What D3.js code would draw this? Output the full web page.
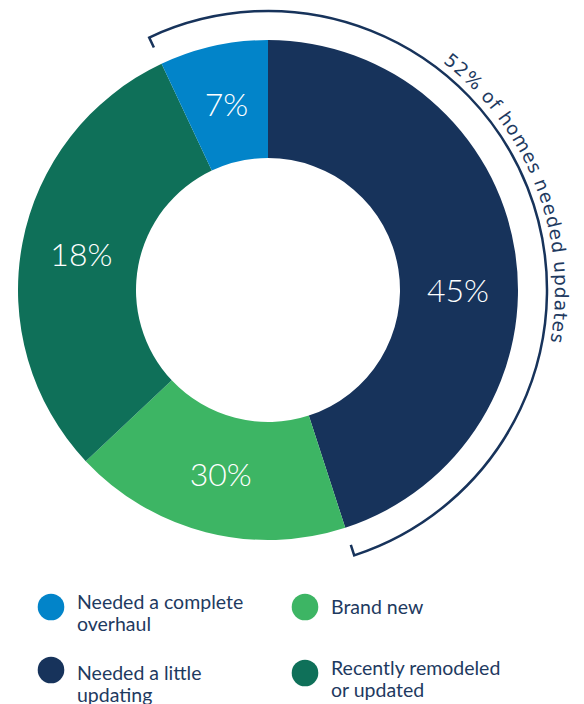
<!DOCTYPE html>
<html><head><meta charset="utf-8">
<script src="https://cdn.jsdelivr.net/npm/d3@7"></script>
<style>
html,body{margin:0;padding:0;background:#fff;}
svg{display:block;font-family:Lato,"Open Sans",sans-serif;}
</style></head>
<body>
<svg id="c" width="584" height="704"></svg>
<script>
// Slice order clockwise from 12 o'clock, as drawn
const categories = ["Needed a little updating", "Brand new", "Recently remodeled or updated", "Needed a complete overhaul"];
const values = [45, 18, 30, 7];            // arc sizes as drawn (%)
const valueLabels = ["45%", "30%", "18%", "7%"]; // labels as printed on the slices
const colors = ["#17335b", "#3db564", "#0f7059", "#0284c9"];
const legendOrder = [3, 0, 1, 2]; // col1: overhaul, little; col2: brand new, remodeled
const legendLines = {
  "Needed a complete overhaul": ["Needed a complete", "overhaul"],
  "Needed a little updating": ["Needed a little", "updating"],
  "Brand new": ["Brand new"],
  "Recently remodeled or updated": ["Recently remodeled", "or updated"]
};
const bracketText = "52% of homes needed updates";
const bracketShare = 52;

const svg = d3.select("#c");
const cx = 268, cy = 290, R = 250, r = 132;
const g = svg.append("g").attr("transform", `translate(${cx},${cy})`);

const pie = d3.pie().value(d => d).sort(null);
const arcs = pie(values);
const arc = d3.arc().innerRadius(r).outerRadius(R);
const labelR = 190;

g.selectAll("path.slice").data(arcs).join("path")
  .attr("class", "slice")
  .attr("d", arc)
  .attr("fill", (d, i) => colors[i]);

// label angle: slice mid-angle; very wide slices are labelled at horizontal
const labelAngle = d => {
  const span = d.endAngle - d.startAngle;
  return span > 2.6 ? Math.PI / 2 : (d.startAngle + d.endAngle) / 2;
};
g.selectAll("text.lbl").data(arcs).join("text")
  .attr("class", "lbl")
  .attr("x", d => Math.sin(labelAngle(d)) * labelR)
  .attr("y", d => -Math.cos(labelAngle(d)) * labelR)
  .attr("text-anchor", "middle")
  .attr("dy", "0.36em")
  .attr("fill", "#fff")
  .attr("font-size", 32)
  .attr("font-weight", 300)
  .text((d, i) => valueLabels[i]);

// Bracket covering "needed updates" slices (overhaul + little updating)
const tau = 2 * Math.PI;
const bStart = arcs[3].startAngle - tau;  // start of overhaul slice (negative angle)
const bEnd = arcs[0].endAngle;
const bR = 279, tickIn = 11;
const pt = (a, rad) => [Math.sin(a) * rad, -Math.cos(a) * rad];
const bp = d3.path();
const p0 = pt(bStart, bR - tickIn);
bp.moveTo(p0[0], p0[1]);
const p1 = pt(bStart, bR);
bp.lineTo(p1[0], p1[1]);
bp.arc(0, 0, bR, bStart - Math.PI / 2, bEnd - Math.PI / 2, false);
const p2 = pt(bEnd, bR - tickIn);
bp.lineTo(p2[0], p2[1]);
g.append("path").attr("d", bp.toString())
  .attr("fill", "none").attr("stroke", "#17335b").attr("stroke-width", 2.5);

// Curved text
const tR = 287;
const tp = d3.path();
const q0 = pt(0, tR);
tp.moveTo(q0[0], q0[1]);
tp.arc(0, 0, tR, -Math.PI / 2, Math.PI / 2, false);
g.append("path").attr("id", "tpath").attr("d", tp.toString()).attr("fill", "none");
const startDeg = 37.5, endDeg = 100.4;
g.append("text")
  .attr("fill", "#1e3a5f").attr("font-size", 18.5)
  .attr("font-family", "'DejaVu Sans', sans-serif")
  .append("textPath")
  .attr("href", "#tpath")
  .attr("startOffset", (startDeg * Math.PI / 180) * tR)
  .attr("textLength", ((endDeg - startDeg) * Math.PI / 180) * tR)
  .attr("lengthAdjust", "spacing")
  .text(bracketText);

// Legend
const colX = [51, 305], textX = [77, 331];
const rowY = [607, 670];
const baselines = [[609, 680], [614, 675]];
legendOrder.forEach((idx, k) => {
  const col = Math.floor(k / 2), row = k % 2;
  const name = categories[idx];
  const lines = legendLines[name];
  const cyy = lines.length === 1 ? rowY[row] : rowY[row] + (col === 1 ? 3 : 0);
  svg.append("circle").attr("cx", colX[col]).attr("cy", cyy).attr("r", 13.3).attr("fill", colors[idx]);
  const t = svg.append("text").attr("x", textX[col]).attr("y", baselines[col][row])
    .attr("fill", "#1e3a5f").attr("font-size", 19.5);
  lines.forEach((ln, j) => {
    t.append("tspan").attr("x", textX[col]).attr("dy", j === 0 ? 0 : 22).text(ln);
  });
});
</script>
</body></html>
